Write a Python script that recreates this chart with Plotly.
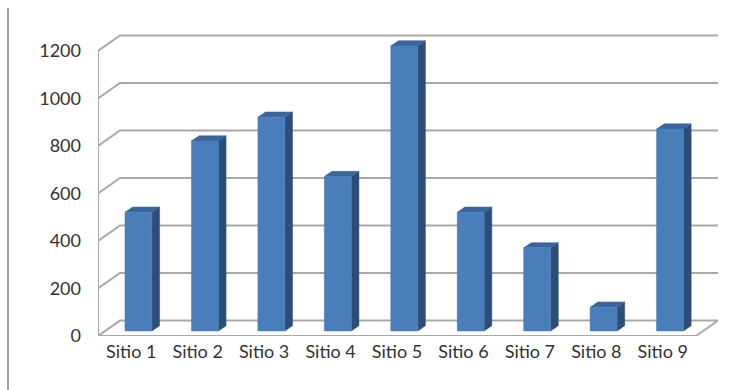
import plotly.graph_objects as go

categories = ["Sitio 1", "Sitio 2", "Sitio 3", "Sitio 4", "Sitio 5", "Sitio 6", "Sitio 7", "Sitio 8", "Sitio 9"]
values = [500, 800, 900, 650, 1200, 500, 350, 100, 850]
y_ticks = [0, 200, 400, 600, 800, 1000, 1200]

# pseudo-3D geometry (in axis units)
WALL_DX, WALL_DY = 0.331, 65      # back wall offset
BAR_X0, BAR_W = -0.094, 0.406     # front face relative to category centre
BAR_SHIFT_Y = 21                  # bar base lifted (mid-depth)
BAR_DX, BAR_DY = 0.115, 22        # bar depth

GRID = "#a9a9a9"
FRONT = "#4a7ebb"
SIDE = "#2c4d77"
TOP = "#3b659c"

n = len(categories)
fig = go.Figure()

# gridlines: diagonal + back horizontal
gx, gy = [], []
for v in y_ticks:
    gx += [-0.5, -0.5 + WALL_DX, n - 0.5 + WALL_DX, None]
    gy += [v, v + WALL_DY, v + WALL_DY, None]
fig.add_trace(go.Scatter(x=gx, y=gy, mode="lines", line=dict(color=GRID, width=2),
                         hoverinfo="skip", showlegend=False))

# floor front edge, right diagonal, front axis, ticks
lx = [-0.5, -0.5, None, -0.5, n - 0.5, n - 0.5 + WALL_DX, None]
ly = [0, y_ticks[-1], None, 0, 0, WALL_DY, None]
for i in range(n + 1):
    lx += [i - 0.5, i - 0.5, None]
    ly += [0, -22, None]
for v in y_ticks:
    lx += [-0.5, -0.545, None]
    ly += [v, v, None]
fig.add_trace(go.Scatter(x=lx, y=ly, mode="lines", line=dict(color=GRID, width=2),
                         hoverinfo="skip", showlegend=False, cliponaxis=False))

# bars
for i, v in enumerate(values):
    x0 = i + BAR_X0
    x1 = x0 + BAR_W
    b = BAR_SHIFT_Y
    t = BAR_SHIFT_Y + v
    # side
    fig.add_trace(go.Scatter(x=[x1, x1 + BAR_DX, x1 + BAR_DX, x1, x1],
                             y=[b, b + BAR_DY, t + BAR_DY, t, b],
                             fill="toself", fillcolor=SIDE, mode="lines",
                             line=dict(color=SIDE, width=0.5), hoverinfo="skip", showlegend=False))
    # top
    fig.add_trace(go.Scatter(x=[x0, x1, x1 + BAR_DX, x0 + BAR_DX, x0],
                             y=[t, t, t + BAR_DY, t + BAR_DY, t],
                             fill="toself", fillcolor=TOP, mode="lines",
                             line=dict(color=TOP, width=0.5), hoverinfo="skip", showlegend=False))
    # front
    fig.add_trace(go.Scatter(x=[x0, x1, x1, x0, x0],
                             y=[b, b, t, t, b],
                             fill="toself", fillcolor=FRONT, mode="lines",
                             line=dict(color=FRONT, width=0.5), hoverinfo="text",
                             text=f"{categories[i]}: {v}", showlegend=False))

fig.update_layout(
    width=749, height=390,
    margin=dict(l=98, r=31, t=30, b=54),
    paper_bgcolor="white", plot_bgcolor="white",
    font=dict(family="Lato, 'Open Sans', sans-serif", size=18, color="#333333"),
    xaxis=dict(range=[-0.5, n - 0.5 + WALL_DX], tickmode="array",
               tickvals=list(range(n)), ticktext=categories,
               showgrid=False, zeroline=False, showline=False, ticks="",
               ticklabelstandoff=3, fixedrange=True),
    yaxis=dict(range=[0, 1288], tickmode="array", tickvals=y_ticks,
               ticktext=[str(v) for v in y_ticks],
               showgrid=False, zeroline=False, showline=False, ticks="",
               ticklabelstandoff=16, fixedrange=True),
    shapes=[dict(type="line", xref="paper", yref="paper",
                 x0=-(98 - 8) / 620, x1=-(98 - 8) / 620, y0=-54 / 306, y1=(306 + 22) / 306,
                 line=dict(color="#a0a0a0", width=2))],
)

fig.write_html("out.html")
